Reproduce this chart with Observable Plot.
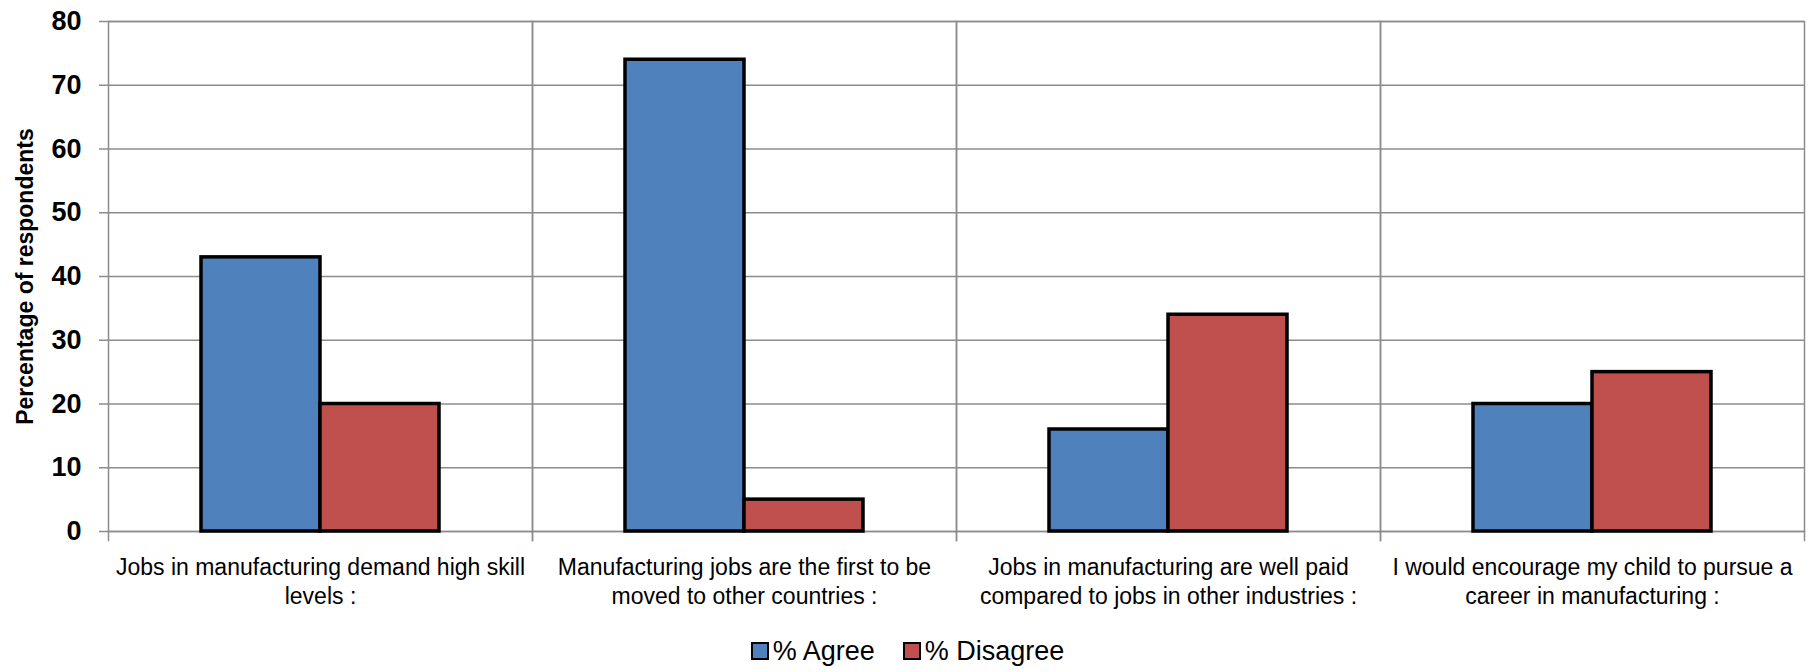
<!DOCTYPE html>
<html>
<head>
<meta charset="utf-8">
<script src="https://cdn.jsdelivr.net/npm/d3@7"></script>
<script src="https://cdn.jsdelivr.net/npm/@observablehq/plot@0.6"></script>
<style>
  body { margin: 0; background: #fff; }
  #chart { width: 1813px; }
  .legend { display: flex; justify-content: center; align-items: center; gap: 28px; height: 42px;
            font-family: "Liberation Sans", sans-serif; font-size: 27px; color: #000; padding-left: 2px; }
  .legend span.item { display: flex; align-items: center; gap: 4px; }
  .legend span.sw { display: inline-block; width: 14px; height: 14px; border: 2.5px solid #000; }
</style>
</head>
<body>
<div id="chart"></div>
<script>
const categories = [
  "Jobs in manufacturing demand high skill levels :",
  "Manufacturing jobs are the first to be moved to other countries :",
  "Jobs in manufacturing are well paid compared to jobs in other industries :",
  "I would encourage my child to pursue a career in manufacturing :"
];
const categoryLabels = [
  "Jobs in manufacturing demand high skill\nlevels :",
  "Manufacturing jobs are the first to be\nmoved to other countries :",
  "Jobs in manufacturing are well paid\ncompared to jobs in other industries :",
  "I would encourage my child to pursue a\ncareer in manufacturing :"
];
const series = ["% Agree", "% Disagree"];
const agree = [43, 74, 16, 20];
const disagree = [20, 5, 34, 25];
const yTicks = [0, 10, 20, 30, 40, 50, 60, 70, 80];
const yLabel = "Percentage of respondents";
const colors = ["#4F81BD", "#C0504D"];

const data = [];
categories.forEach((c, i) => {
  data.push({category: c, series: series[0], value: agree[i]});
  data.push({category: c, series: series[1], value: disagree[i]});
});

const W = 1813, H = 630, mT = 21, mB = 99, mL = 106, mR = 8;
const plotH = H - mT - mB;
const font = "'Liberation Sans', Arial, sans-serif";

const chart = Plot.plot({
  width: W, height: H,
  marginTop: mT, marginBottom: mB, marginLeft: mL, marginRight: mR,
  style: {fontFamily: font, background: "#fff", color: "#000"},
  fx: {domain: categories, padding: 0, label: null},
  x: {domain: series, paddingInner: 0, paddingOuter: 0.77, axis: null},
  y: {domain: [0, 80], label: null},
  color: {domain: series, range: colors},
  marks: [
    Plot.gridY(yTicks, {stroke: "#8c8c8c", strokeOpacity: 1, strokeWidth: 1.5}),
    Plot.frame({stroke: "#8c8c8c", strokeWidth: 1.5}),
    Plot.frame({anchor: "left", stroke: "#8c8c8c", strokeWidth: 1.5, insetTop: plotH, insetBottom: -9}),
    Plot.frame({anchor: "right", stroke: "#8c8c8c", strokeWidth: 1.5, insetTop: plotH, insetBottom: -9}),
    Plot.axisY(yTicks, {
      tickSize: 9, tickPadding: 18, stroke: "#8c8c8c", strokeWidth: 1.5,
      fontSize: 27, fontWeight: "bold", label: null
    }),
    Plot.text([{fx: categories[0], label: yLabel}], {
      fx: "fx", text: "label", frameAnchor: "left", textAnchor: "middle", dx: -83, rotate: -90,
      fontSize: 23, fontWeight: "bold"
    }),
    Plot.axisFx({
      anchor: "bottom", tickSize: 0, tickPadding: 23, fontSize: 23, label: null,
      tickFormat: (d) => categoryLabels[categories.indexOf(d)], lineHeight: 1.25,
      textAnchor: "middle"
    }),
    Plot.barY(data, {
      fx: "category", x: "series", y: "value", fill: "series",
      stroke: "#000", strokeWidth: 3.5, inset: 0
    })
  ]
});
document.getElementById("chart").appendChild(chart);

const legend = document.createElement("div");
legend.className = "legend";
series.forEach((s, i) => {
  const item = document.createElement("span");
  item.className = "item";
  const sw = document.createElement("span");
  sw.className = "sw";
  sw.style.background = colors[i];
  item.appendChild(sw);
  item.appendChild(document.createTextNode(s));
  legend.appendChild(item);
});
document.getElementById("chart").appendChild(legend);
</script>
</body>
</html>
